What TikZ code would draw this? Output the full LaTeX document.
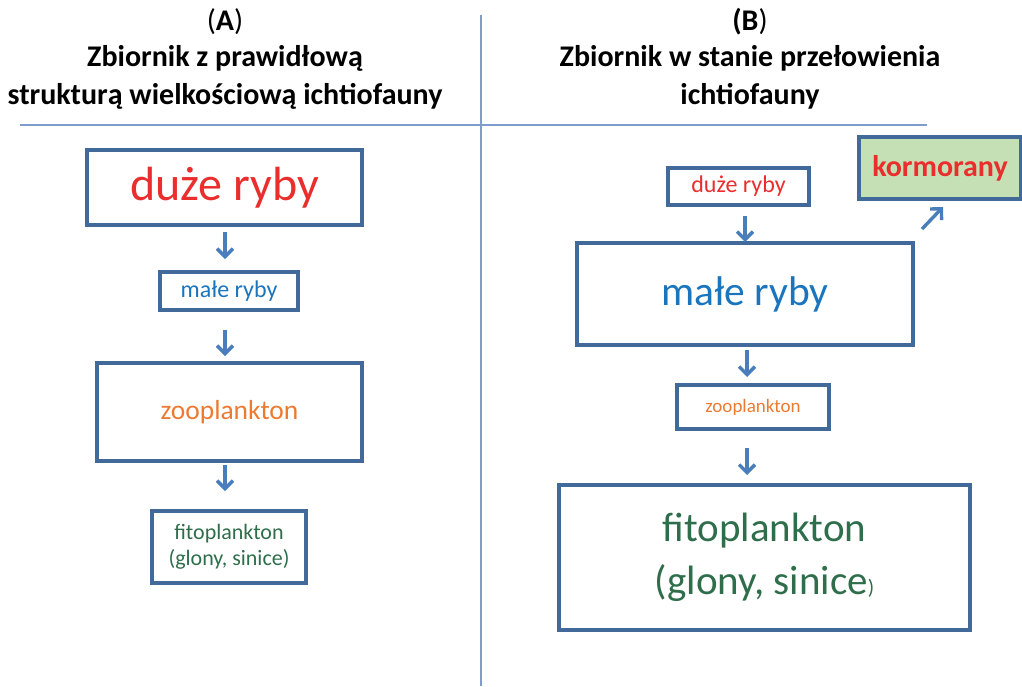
\documentclass[tikz,border=0pt]{standalone}
\usepackage{fontspec}
\setmainfont{Carlito}
\usetikzlibrary{arrows.meta}
\definecolor{boxline}{HTML}{41699A}
\definecolor{arrowc}{HTML}{4A7EBB}
\definecolor{sepline}{HTML}{7F9CCB}
\definecolor{tred}{HTML}{EA2D2D}
\definecolor{tblue}{HTML}{1A75BC}
\definecolor{torange}{HTML}{EC7A31}
\definecolor{tgreen}{HTML}{2F6E4B}
\definecolor{kfill}{HTML}{C5E0B4}
\tikzset{
  px/.style={x=1pt,y=-1pt},
  boxn/.style={draw=boxline,line width=3.2pt,rectangle,inner sep=0pt,align=center},
  arr/.style={draw=arrowc,line width=3.4pt,-{Straight Barb[length=8pt,width=16pt,line width=3.4pt]}},
  sep/.style={draw=sepline,line width=1.4pt},
  titlef/.style={font=\fontsize{30}{36}\selectfont\bfseries,align=center,text=black}
}
\begin{document}
\begin{tikzpicture}[px]
\useasboundingbox (0,0) rectangle (1022,686);
% separators
\coordinate (v1) at (481,15); \coordinate (v2) at (481,686);
\coordinate (h1) at (20,125); \coordinate (h2) at (927,125);
\draw[sep] (v1) -- (v2);
\draw[sep] (h1) -- (h2);
% titles
\node[titlef] (tA0) at (225,22) {\mdseries(\textbf{A})};
\node[titlef] (tA1) at (225,58) {Zbiornik z prawidłową};
\node[titlef] (tA2) at (225,96) {strukturą wielkościową ichtiofauny};
\node[titlef] (tB0) at (750,22) {\textbf{(B}\mdseries)};
\node[titlef] (tB1) at (750,58) {Zbiornik w stanie przełowienia};
\node[titlef] (tB2) at (750,96) {ichtiofauny};
% left column
\node[boxn,minimum width=275pt,minimum height=75pt,text=tred,font=\fontsize{48}{56}\selectfont] (lA) at (224.5,187.5) {duże ryby};
\node[boxn,minimum width=138pt,minimum height=38pt,text=tblue,font=\fontsize{24}{28}\selectfont] (lB) at (229,291) {małe ryby};
\node[boxn,minimum width=265pt,minimum height=98pt,text=torange,font=\fontsize{27.5}{32}\selectfont] (lC) at (229.5,412) {zooplankton};
\node[boxn,minimum width=154pt,minimum height=72pt,text=tgreen,font=\fontsize{22}{26}\selectfont] (lD) at (229,547) {fitoplankton\\(glony, sinice)};
\coordinate (la1) at (225,232); \coordinate (la2) at (225,259);
\coordinate (lb1) at (225,330); \coordinate (lb2) at (225,356);
\coordinate (lc1) at (225,465); \coordinate (lc2) at (225,491);
\draw[arr] (la1) -- (la2);
\draw[arr] (lb1) -- (lb2);
\draw[arr] (lc1) -- (lc2);
% right column
\node[boxn,minimum width=141pt,minimum height=37pt,text=tred,font=\fontsize{24}{28}\selectfont] (rA) at (738.5,186.5) {duże ryby};
\node[boxn,minimum width=336pt,minimum height=102pt,text=tblue,font=\fontsize{41.5}{48}\selectfont] (rB) at (745,294) {małe ryby};
\node[boxn,minimum width=152pt,minimum height=44pt,text=torange,font=\fontsize{19}{22}\selectfont] (rC) at (753,407) {zooplankton};
\node[boxn,minimum width=411pt,minimum height=145pt,text=tgreen,font=\fontsize{41}{53}\selectfont] (rD) at (764.5,557.5) {fitoplankton\\(glony, sinice{\fontsize{21}{22}\selectfont)}};
\node[boxn,fill=kfill,minimum width=162pt,minimum height=62pt,text=tred,font=\fontsize{30}{34}\selectfont\bfseries] (rK) at (940,168) {kormorany};
\coordinate (ra1) at (745,216); \coordinate (ra2) at (745,242);
\coordinate (rb1) at (747,350); \coordinate (rb2) at (747,377);
\coordinate (rc1) at (747,448); \coordinate (rc2) at (747,475);
\coordinate (rk1) at (922,229); \coordinate (rk2) at (943,207);
\draw[arr] (ra1) -- (ra2);
\draw[arr] (rb1) -- (rb2);
\draw[arr] (rc1) -- (rc2);
\draw[arr] (rk1) -- (rk2);
\end{tikzpicture}
\end{document}
